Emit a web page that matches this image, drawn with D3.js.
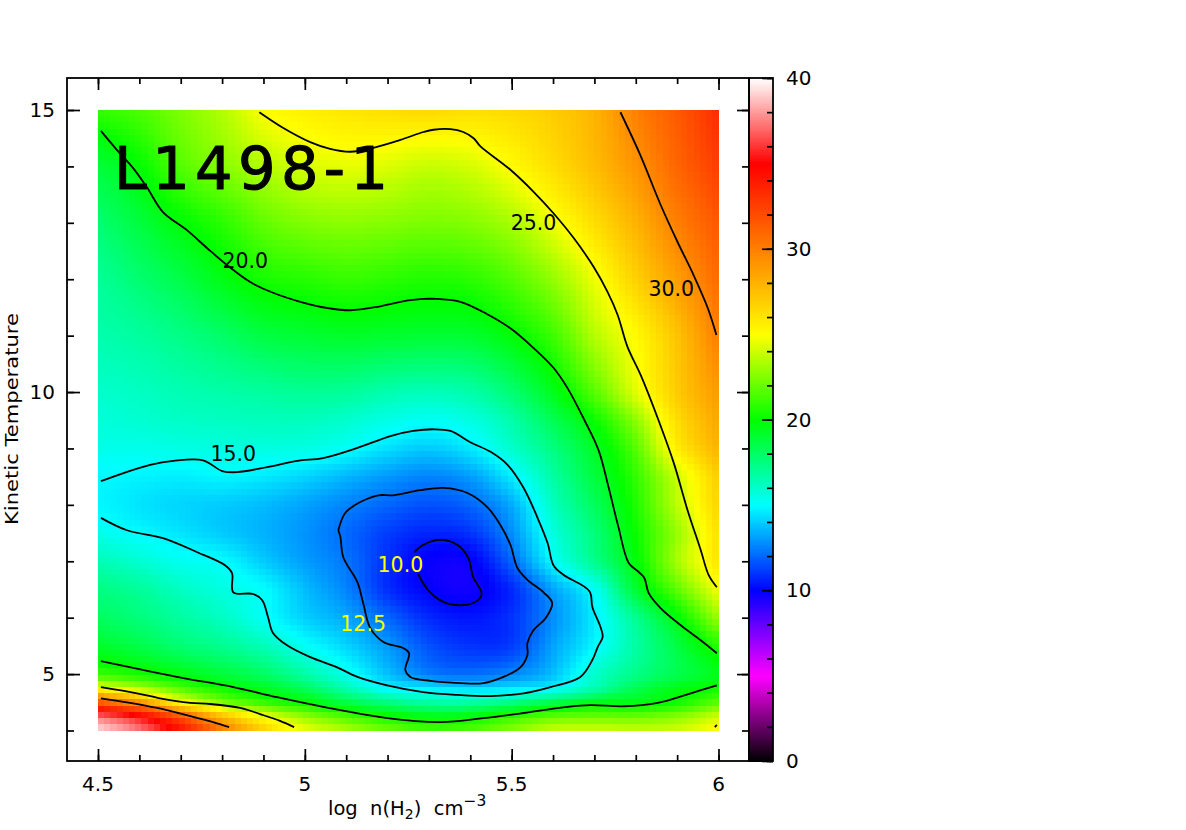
<!DOCTYPE html>
<html><head><meta charset="utf-8">
<style>html,body{margin:0;background:#fff}svg{display:block}text{font-family:"DejaVu Sans",sans-serif;fill:#000;white-space:pre}</style>
<script src="https://cdn.jsdelivr.net/npm/d3@7/dist/d3.min.js"></script></head><body>
<script>
// ---- values ----
const lognColumns=[4.5,4.6,4.7,4.8,4.9,5.0,5.1,5.2,5.3,5.4,5.5,5.6,5.7,5.8,5.9,6.0];
const tempRows=[4,4.25,4.5,4.75,5,5.5,6,6.5,7,7.5,8,8.5,9,9.5,10,11,12,13,14,15];
const chi2Grid=[
[39.5,37.5,34.5,30.5,27,24.8,23.5,22.3,21.4,21.7,22.8,24,24.2,24,24.2,25.3],
[37,35,31.5,27.5,24.7,22.8,21.4,20.2,19.6,19.8,20.8,21.8,22,22,22.6,24],
[31.5,29,25.3,22.5,21,20,18.6,17.6,16.8,16.7,17.4,18.5,19.5,19.6,20.3,21.8],
[25.2,23.6,21.6,20.3,19.4,18.2,16.6,15,14.6,14.3,14.5,15,16.6,18.4,19.6,20.3],
[21.2,20.5,19.7,18.9,18.1,16.8,15.4,13.8,12.5,12.2,12.7,13.8,16,17.4,18.5,19.5],
[19.2,18.6,17.8,17.2,16.4,15.2,14.2,13,11.6,11,11.2,13.2,14.9,16.8,18.7,20.8],
[18.2,17.6,16.9,16.2,15.2,14.1,13.3,12,10.8,10.4,11,12.8,14.7,17.2,19.8,23],
[17.5,17,16.2,15.6,15,13.7,12.6,10.9,10,9.7,10.8,13.2,15.2,19,21.8,24.8],
[16.5,15.9,15.3,15,14,13.1,12.3,10.9,9.9,9.9,12,15,17.2,19.8,23.2,26],
[15.4,14.95,14.5,14,13.5,12.9,12.1,11.2,10.7,11,12.8,15.6,17.6,20.2,23,26.2],
[14.9,14.5,14.2,14,13.7,13.2,12.6,12,11.6,12,13.4,16.2,18.2,20.6,23.7,26.7],
[14.95,14.8,14.7,14.85,14.6,14.2,13.6,13,12.6,13.1,14.7,16.8,18.8,21,24,27],
[15.4,15.4,15.5,15.6,15.6,15.5,15.1,14.4,14,14.6,16,17.5,19.3,21.7,25.6,28],
[15.7,15.9,16.1,16.2,16.3,16.3,16,15.5,15.2,15.6,16.7,18.4,20.2,22.8,26.3,28.5],
[16,16.2,16.5,16.7,16.9,17.1,17,16.6,16.4,16.7,17.8,19.5,21.7,24.4,27,29],
[16.6,16.9,17.4,18,18.7,19,19.2,19.1,19,19.1,19.9,21.2,23.5,25.2,27.4,30],
[17,17.8,18.6,19.6,20.4,20.7,21,20.8,20.6,20.8,21.6,22.9,24.7,26.8,28.8,30.8],
[17.8,18.8,19.9,20.8,21.9,22.5,22.7,22.6,22.4,22.6,23.3,24.7,26.3,28,30,31.6],
[18.8,20,21.6,22.6,23.5,24.2,24.5,24.3,23.9,24.2,25.1,26.3,27.6,29.2,31,32.6],
[21,21.5,22.5,23.5,25,25.6,26,26.3,26.5,26.3,26.5,27,28,30,31.5,33.3]];
const colorStops=[0,5,10,15,20,25,35,40];
const colorNames=["#000000","#ff00ff","#0000ff","#00ffff","#00ff00","#ffff00","#ff0000","#ffffff"];
const contour30a=[[5.763,14.96],[5.811,14.20],[5.860,13.32],[5.901,12.66],[5.940,12.07],[5.974,11.49],[5.995,11.01]];
const contour25a=[[4.890,14.96],[4.948,14.68],[5.013,14.43],[5.061,14.31],[5.110,14.26],[5.166,14.33],[5.231,14.47],[5.287,14.61],[5.311,14.65],[5.352,14.66],[5.383,14.61],[5.408,14.50],[5.424,14.36],[5.497,13.94],[5.553,13.55],[5.601,13.17],[5.650,12.73],[5.698,12.22],[5.732,11.77],[5.756,11.37],[5.780,10.80],[5.812,10.30],[5.855,9.50],[5.892,8.74],[5.925,7.91],[5.957,7.20],[5.976,6.76],[5.996,6.54]];
const contour20a=[[4.507,14.63],[4.546,14.29],[4.585,13.97],[4.619,13.62],[4.657,13.19],[4.715,12.87],[4.764,12.55],[4.812,12.25],[4.868,11.95],[4.923,11.76],[4.989,11.60],[5.054,11.49],[5.110,11.45],[5.175,11.51],[5.231,11.60],[5.286,11.65],[5.320,11.65],[5.376,11.60],[5.441,11.38],[5.497,11.13],[5.553,10.78],[5.601,10.43],[5.635,10.07],[5.676,9.50],[5.710,8.97],[5.734,8.32],[5.758,7.61],[5.783,6.97],[5.807,6.81],[5.821,6.70],[5.831,6.44],[5.860,6.17],[5.908,5.87],[5.957,5.60],[5.996,5.37]];
const contour20b=[[4.507,5.23],[4.585,5.11],[4.706,4.93],[4.827,4.77],[4.933,4.59],[5.044,4.42],[5.199,4.22],[5.328,4.15],[5.432,4.22],[5.529,4.31],[5.635,4.42],[5.691,4.45],[5.771,4.43],[5.853,4.49],[5.933,4.66],[5.996,4.80]];
const contour25b=[[4.507,4.77],[4.594,4.66],[4.650,4.57],[4.723,4.49],[4.771,4.47],[4.844,4.40],[4.892,4.29],[4.940,4.17],[4.974,4.06]];
const contour25c=[[5.991,4.06],[5.996,4.10]];
const contour30b=[[4.507,4.57],[4.570,4.50],[4.643,4.40],[4.730,4.24],[4.778,4.15],[4.817,4.06]];
const contour15=[[4.507,8.42],[4.560,8.56],[4.626,8.71],[4.682,8.78],[4.754,8.79],[4.800,8.60],[4.836,8.58],[4.909,8.67],[4.982,8.78],[5.044,8.83],[5.127,9.01],[5.207,9.22],[5.262,9.31],[5.311,9.34],[5.352,9.31],[5.400,9.11],[5.449,8.94],[5.490,8.71],[5.529,8.30],[5.562,7.78],[5.587,7.32],[5.601,6.93],[5.625,6.76],[5.688,6.47],[5.695,6.19],[5.715,5.83],[5.720,5.66],[5.708,5.48],[5.695,5.25],[5.666,4.95],[5.594,4.77],[5.529,4.66],[5.449,4.61],[5.369,4.63],[5.286,4.68],[5.199,4.80],[5.127,4.95],[5.078,5.12],[5.013,5.30],[4.957,5.51],[4.923,5.73],[4.911,6.01],[4.897,6.31],[4.875,6.42],[4.827,6.45],[4.824,6.79],[4.807,6.93],[4.740,7.16],[4.657,7.41],[4.570,7.55],[4.507,7.77]];
const contour125=[[5.081,7.55],[5.098,7.86],[5.134,8.05],[5.178,8.17],[5.214,8.17],[5.279,8.26],[5.335,8.30],[5.393,8.21],[5.441,7.96],[5.473,7.64],[5.497,7.29],[5.514,6.88],[5.538,6.67],[5.577,6.45],[5.598,6.26],[5.582,5.99],[5.553,5.78],[5.538,5.55],[5.538,5.34],[5.521,5.12],[5.480,4.95],[5.432,4.84],[5.376,4.84],[5.303,4.88],[5.255,4.95],[5.243,5.07],[5.252,5.37],[5.238,5.46],[5.190,5.57],[5.158,5.82],[5.141,6.26],[5.127,6.63],[5.093,7.07],[5.086,7.43],[5.081,7.55]];
const contour10=[[5.265,7.16],[5.286,7.29],[5.328,7.38],[5.369,7.29],[5.395,7.06],[5.407,6.72],[5.427,6.45],[5.424,6.35],[5.407,6.26],[5.376,6.22],[5.335,6.28],[5.298,6.49],[5.274,6.77]];
const contourLabels=["20.0","25.0","30.0","15.0","10.0","12.5"];
const labelLogn=[4.856,5.553,5.886,4.827,5.231,5.141];
const labelTemp=[12.20,12.87,11.70,8.78,6.81,5.76];
const labelColor=["#000","#000","#000","#000","#ffff00","#ffff00"];
const xTicks=[4.5,5,5.5,6], yTicks=[5,10,15], barTicks=[0,10,20,30,40];
const titleText="L1498-1";

// ---- layout ----
const W=1186,H=830;
const frame={l:67,r:749,t:78,b:761}, bar={l:749,r:773};
const svg=d3.select("body").append("svg").attr("width",W).attr("height",H);
const x=d3.scaleLinear().domain([4.5,6]).range([98,718.5]);
const y=d3.scaleLinear().domain([4,15]).range([730.5,110]);
const xMin=[],yMin=d3.range(4,16);
for(let i=0;i<=15;i++)xMin.push(+(4.5+i*0.1).toFixed(1));
const c=d3.scaleLinear().domain(colorStops).range(colorNames).clamp(true);
const barY=d3.scaleLinear().domain([0,40]).range([frame.b,frame.t]);

// Smooth display resampling of the grid, like the image's 100x100 pixels.
function herm(xs,ys,v){
  let i=Math.min(d3.bisectRight(xs,v)-1,xs.length-2); if(i<0)i=0;
  const slope=k=>{
    if(k===0)return (ys[1]-ys[0])/(xs[1]-xs[0]);
    if(k===xs.length-1)return (ys[k]-ys[k-1])/(xs[k]-xs[k-1]);
    return (ys[k+1]-ys[k-1])/(xs[k+1]-xs[k-1]);
  };
  const h=xs[i+1]-xs[i],t=(v-xs[i])/h,t2=t*t,t3=t2*t;
  return (2*t3-3*t2+1)*ys[i]+(t3-2*t2+t)*h*slope(i)+(-2*t3+3*t2)*ys[i+1]+(t3-t2)*h*slope(i+1);
}
const N=100,cells=[];
const dx=1.5/N,dy=11/N;
for(let j=0;j<N;j++){
  const T=4+(j+.5)*dy;
  for(let i=0;i<N;i++){
    const L=4.5+(i+.5)*dx;
    const col=chi2Grid.map(row=>herm(lognColumns,row,L));
    cells.push({L0:4.5+i*dx,L1:4.5+(i+1)*dx,T0:4+j*dy,T1:4+(j+1)*dy,v:herm(tempRows,col,T)});
  }
}
svg.append("g").attr("shape-rendering","crispEdges").selectAll("rect").data(cells).join("rect")
  .attr("x",d=>Math.round(x(d.L0))).attr("width",d=>Math.round(x(d.L1))-Math.round(x(d.L0)))
  .attr("y",d=>Math.round(y(d.T1))).attr("height",d=>Math.round(y(d.T0))-Math.round(y(d.T1)))
  .attr("fill",d=>c(d.v));

// colour bar
const barVals=d3.range(0,40,0.1);
svg.append("g").attr("shape-rendering","crispEdges").selectAll("rect").data(barVals).join("rect")
  .attr("x",bar.l).attr("width",bar.r-bar.l)
  .attr("y",d=>barY(d+0.1)).attr("height",d=>barY(d)-barY(d+0.1)+0.6).attr("fill",d=>c(d+0.05));

// contours
const line=d3.line().x(d=>x(d[0])).y(d=>y(d[1])).curve(d3.curveCatmullRom.alpha(0.5));
const curves=[contour30a,contour25a,contour20a,contour20b,contour25b,contour25c,contour30b,contour15,contour125,contour10];
svg.append("g").selectAll("path").data(curves).join("path").attr("d",line)
  .attr("fill","none").attr("stroke","#000").attr("stroke-width",1.8);

// contour labels
svg.append("g").selectAll("text").data(contourLabels).join("text")
  .attr("x",(d,i)=>x(labelLogn[i])).attr("y",(d,i)=>y(labelTemp[i])).attr("text-anchor","middle")
  .attr("font-size",20.5).style("fill",(d,i)=>labelColor[i]).text(d=>d);

// title
svg.append("text").attr("x",x(4.5)+16).attr("y",y(13.6)).attr("font-size",59)
  .attr("textLength",274).attr("lengthAdjust","spacing")
  .attr("stroke","#000").attr("stroke-width",1.1).attr("stroke-linejoin","round").text(titleText);

// frames and axes
function styleAxis(g){g.select(".domain").remove();g.selectAll("line").attr("stroke","#000").attr("stroke-width",1.7);}
const gx=(scale,pos,vals,len,fmt,up)=>{
  const a=(up?d3.axisTop:d3.axisBottom)(scale).tickValues(vals).tickSize(len).tickFormat(fmt);
  svg.append("g").attr("transform",`translate(0,${pos})`).call(a).call(styleAxis);
};
const gy=(scale,pos,vals,len,fmt,left)=>{
  const a=(left?d3.axisLeft:d3.axisRight)(scale).tickValues(vals).tickSize(len).tickFormat(fmt);
  svg.append("g").attr("transform",`translate(${pos},0)`).call(a).call(styleAxis);
};
const none=()=>"";
gx(x,frame.b,xMin,6,none,true); gx(x,frame.b,xTicks,12,none,true);
gx(x,frame.t,xMin,6,none,false); gx(x,frame.t,xTicks,12,none,false);
gy(y,frame.l,yMin,7,none,false); gy(y,frame.l,yTicks,13,none,false);
gy(y,frame.r,yMin,7,none,true); gy(y,frame.r,yTicks,12,none,true);
gy(barY,bar.r,d3.range(0,41,2),6,none,true); gy(barY,bar.r,barTicks,11,none,true);
[[frame.l,frame.t,frame.r-frame.l,frame.b-frame.t],[bar.l,frame.t,bar.r-bar.l,frame.b-frame.t]].forEach(r=>
  svg.append("rect").attr("x",r[0]).attr("y",r[1]).attr("width",r[2]).attr("height",r[3])
    .attr("fill","none").attr("stroke","#000").attr("stroke-width",1.8));

// tick labels
svg.append("g").selectAll("text").data(xTicks).join("text").attr("x",d=>x(d)).attr("y",791)
  .attr("text-anchor","middle").attr("font-size",20).text(d=>d);
svg.append("g").selectAll("text").data(yTicks).join("text").attr("x",55).attr("y",d=>y(d)+7)
  .attr("text-anchor","end").attr("font-size",20).text(d=>d);
svg.append("g").selectAll("text").data(barTicks).join("text").attr("x",786).attr("y",d=>barY(d)+7)
  .attr("text-anchor","start").attr("font-size",20).text(d=>d);

// axis titles
const xl=svg.append("text").attr("x",328).attr("y",815).attr("font-size",19.5);
xl.append("tspan").text("log  n(H");
xl.append("tspan").attr("dy",4).attr("font-size",14).text("2");
xl.append("tspan").attr("dy",-4).text(")  cm");
xl.append("tspan").attr("dy",-9).attr("font-size",15.5).text("−3");
svg.append("text").attr("transform","translate(18,525) rotate(-90)").attr("font-size",18)
  .attr("textLength",212).attr("lengthAdjust","spacingAndGlyphs").text("Kinetic Temperature");
</script></body></html>
